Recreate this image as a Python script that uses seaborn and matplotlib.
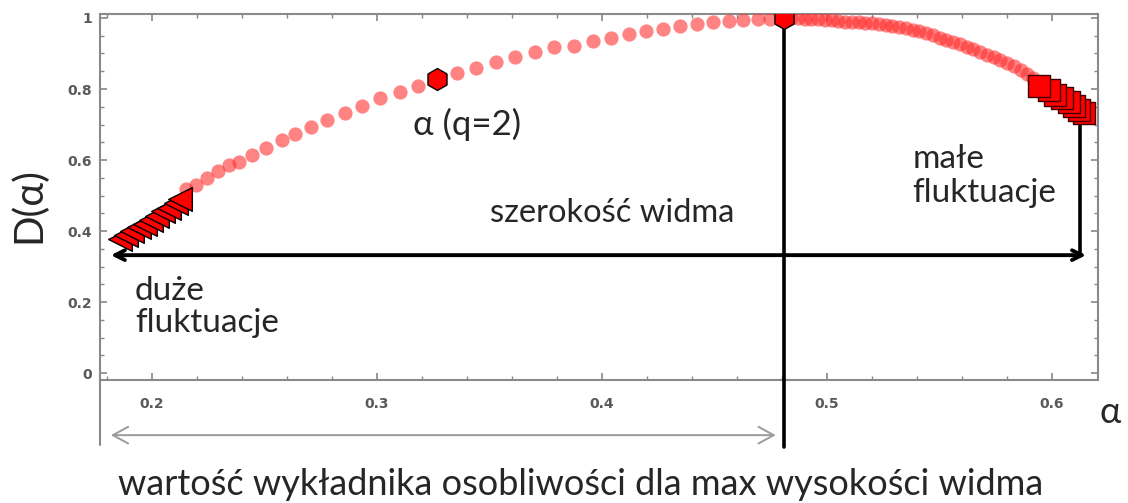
import numpy as np
import matplotlib
matplotlib.use("Agg")
import matplotlib.pyplot as plt
import seaborn as sns

# singularity spectrum D(alpha)
alpha_tri = [0.1857, 0.1885, 0.1912, 0.1940, 0.1967, 0.1995, 0.2022, 0.2050, 0.2077, 0.2105, 0.2125]
d_tri = [0.377, 0.388, 0.399, 0.410, 0.421, 0.432, 0.443, 0.455, 0.466, 0.478, 0.489]

alpha_circ = [0.2151, 0.2195, 0.2243, 0.2294, 0.2341, 0.2386, 0.2446, 0.2506, 0.2576, 0.2637,
              0.2706, 0.2779, 0.2859, 0.2935, 0.3014, 0.3100, 0.3183, 0.3354, 0.3440, 0.3529,
              0.3614, 0.3700, 0.3786, 0.3875, 0.3958, 0.4039, 0.4119, 0.4197, 0.4272, 0.4345,
              0.4422, 0.4493, 0.4562, 0.4627, 0.4691, 0.4747,
              0.4840, 0.4870, 0.4900, 0.4930, 0.4960, 0.4990, 0.5020, 0.5050, 0.5080, 0.5110,
              0.5140, 0.5170, 0.5200, 0.5230, 0.5260, 0.5290, 0.5320, 0.5350, 0.5380, 0.5410,
              0.5440, 0.5470, 0.5500, 0.5530, 0.5560, 0.5590, 0.5620, 0.5650, 0.5680, 0.5710,
              0.5740, 0.5770, 0.5800, 0.5830, 0.5860, 0.5890, 0.5915]
d_circ = [0.517, 0.530, 0.549, 0.568, 0.585, 0.594, 0.615, 0.634, 0.656, 0.672,
          0.693, 0.712, 0.733, 0.753, 0.774, 0.791, 0.809, 0.844, 0.860, 0.877,
          0.890, 0.904, 0.917, 0.921, 0.935, 0.945, 0.955, 0.962, 0.969, 0.978,
          0.983, 0.988, 0.992, 0.995, 0.997, 0.998,
          0.9995, 0.999, 0.998, 0.997, 0.996, 0.995, 0.993, 0.991, 0.990, 0.989,
          0.988, 0.986, 0.985, 0.983, 0.981, 0.978, 0.975, 0.971, 0.967, 0.962,
          0.957, 0.951, 0.945, 0.939, 0.933, 0.926, 0.919, 0.912, 0.905, 0.897,
          0.889, 0.881, 0.873, 0.864, 0.854, 0.843, 0.831]

alpha_sq = [0.5941, 0.5985, 0.6015, 0.6044, 0.6074, 0.6096, 0.6119, 0.6141]
d_sq = [0.809, 0.797, 0.783, 0.774, 0.762, 0.753, 0.742, 0.731]

alpha_q2, d_q2 = 0.3268, 0.827
alpha_max, d_max = 0.4807, 1.0

width_y = 0.332          # level of the "szerokość widma" arrow
ref_y = -0.175           # level of the grey arrow under the axis

fig = plt.figure(figsize=(11.28, 5.03), dpi=100)
ax = fig.add_axes([0.0887, 0.2445, 0.8847, 0.7277])
sns.set_style("white")
plt.rcParams["font.family"] = ["Lato", "DejaVu Sans"]

sns.scatterplot(x=alpha_circ, y=d_circ, ax=ax, color="#ff2a2a", alpha=0.58,
                s=105, linewidth=0, marker="o", zorder=3)
sns.scatterplot(x=alpha_tri, y=d_tri, ax=ax, color="red", s=290, marker="<",
                edgecolor="black", linewidth=1.0, zorder=4)
sns.scatterplot(x=alpha_sq[::-1], y=d_sq[::-1], ax=ax, color="red", s=250, marker="s",
                edgecolor="#400000", linewidth=1.0, zorder=4)
sns.scatterplot(x=[alpha_q2, alpha_max], y=[d_q2, d_max], ax=ax, color="red", s=250,
                marker="h", edgecolor="black", linewidth=1.0, zorder=5)

ax.set_xlim(0.1769, 0.6204)
ax.set_ylim(-0.0197, 1.0113)
ax.set_xticks([0.2, 0.3, 0.4, 0.5, 0.6])
ax.set_xticks(np.arange(0.18, 0.62, 0.02), minor=True)
ax.set_yticks([0, 0.2, 0.4, 0.6, 0.8, 1.0])
ax.set_yticklabels(["0", "0.2", "0.4", "0.6", "0.8", "1"])
ax.set_yticks(np.arange(0, 1.01, 0.05), minor=True)
ax.tick_params(which="both", direction="in", top=True, right=True, color="#888888",
               labelcolor="#5a5a5a")
ax.tick_params(which="major", length=5, width=1.2)
ax.tick_params(which="minor", length=3, width=1.0)
ax.tick_params(axis="x", labelsize=10, pad=12)
ax.tick_params(axis="y", labelsize=10, pad=6)
for lbl in ax.get_xticklabels() + ax.get_yticklabels():
    lbl.set_family("DejaVu Sans")
    lbl.set_fontweight("bold")
for sp in ax.spines.values():
    sp.set_color("#8a8a8a")
    sp.set_linewidth(1.5)

# left spine continues below the axis
ax.plot([0, 0], [0, -0.178], transform=ax.transAxes, color="#8a8a8a", lw=1.5, clip_on=False)

# vertical line at the maximum, down below the axis
ax.plot([alpha_max, alpha_max], [d_max, -0.208], color="black", lw=2.6, clip_on=False, zorder=4)
# vertical line from the right end of the spectrum
ax.plot([alpha_sq[-1] - 0.0017, alpha_sq[-1] - 0.0017], [d_sq[-1], width_y], color="black",
        lw=2.6, zorder=2)

# spectrum width arrow
ax.annotate("", xy=(alpha_tri[0] - 0.004, width_y), xytext=(alpha_sq[-1] + 0.001, width_y),
            arrowprops=dict(arrowstyle="<->,head_length=0.7,head_width=0.35", color="black",
                            lw=2.8, shrinkA=0, shrinkB=0))
# grey arrow for the alpha of the maximum
ax.annotate("", xy=(alpha_tri[0] - 0.004, ref_y), xytext=(alpha_max - 0.0035, ref_y),
            arrowprops=dict(arrowstyle="<->,head_length=1.1,head_width=0.6", color="#9a9a9a",
                            lw=1.4, shrinkA=0, shrinkB=0), annotation_clip=False)

ax.text(0.316, 0.699, "α (q=2)", fontsize=25, va="center", ha="left")
ax.text(0.350, 0.451, "szerokość widma", fontsize=23.5, va="center", ha="left")
ax.text(0.538, 0.555, "małe\nfluktuacje", fontsize=24, va="center", ha="left", linespacing=1.15)
ax.text(0.1924, 0.186, "duże\nfluktuacje", fontsize=24, va="center", ha="left", linespacing=1.1)

fig.text(0.1046, 0.036, "wartość wykładnika osobliwości dla max wysokości widma",
         fontsize=26, va="center", ha="left")
fig.text(0.984, 0.179, "α", fontsize=26, va="center", ha="center")
fig.text(0.025, 0.592, "D(α)", fontsize=29, va="center", ha="center", rotation=90)

fig.savefig("out.png", dpi=100)
